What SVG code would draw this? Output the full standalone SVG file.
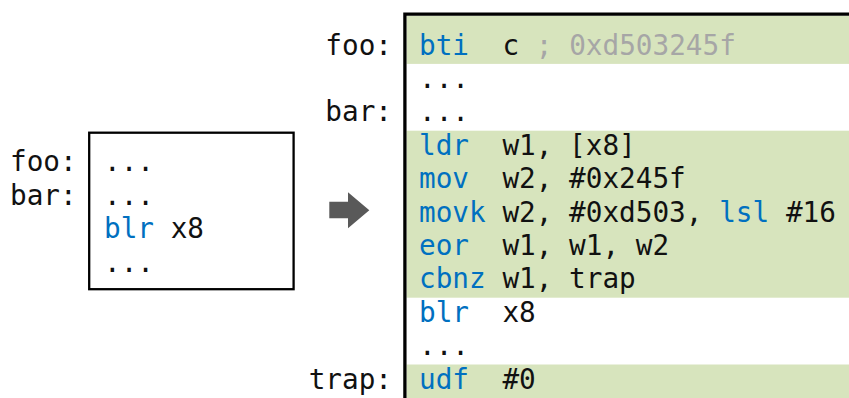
<svg xmlns="http://www.w3.org/2000/svg" width="849" height="398" viewBox="0 0 849 398">
  <style>
    text { font-family: "DejaVu Sans Mono", "Liberation Mono", monospace; font-size: 27.7px; fill: #111111; }
    .op { fill: #0070C0; }
    .cm { fill: #A6A6A6; }
    .lbl { text-anchor: end; }
    .band { fill: #D7E4BD; }
  </style>

  <!-- original code: call site before instrumentation -->
  <g id="original">
    <rect x="89.2" y="132.7" width="204.4" height="156.5" fill="#ffffff" stroke="#000000" stroke-width="2.3"/>
    <text x="10" y="171">foo:</text>
    <text x="10" y="204.5">bar:</text>
    <text x="104" y="171">...</text>
    <text x="104" y="204.5">...</text>
    <text x="104" y="238"><tspan class="op">blr</tspan><tspan x="170.7">x8</tspan></text>
    <text x="104" y="271.5">...</text>
  </g>

  <!-- transformation arrow -->
  <g id="connectors">
    <polygon points="329.3,201.7 348,201.7 348,192.3 369.3,210.2 348,228.3 348,218.3 329.3,218.3" fill="#595959"/>
  </g>

  <!-- instrumented code -->
  <g id="instrumented">
    <!-- highlighted rows -->
    <rect class="band" x="406.6" y="15.8" width="442.4" height="48.1"/>
    <rect class="band" x="406.6" y="130.7" width="442.4" height="167"/>
    <rect class="band" x="406.6" y="364.5" width="442.4" height="33.5"/>
    <!-- frame: left and top edges -->
    <path d="M404.9,398 V14.2 H849" fill="none" stroke="#000000" stroke-width="3.3"/>

    <text class="lbl" x="392" y="54.5">foo:</text>
    <text class="lbl" x="392" y="121.3">bar:</text>
    <text class="lbl" x="392" y="388.5">trap:</text>

    <text x="419" y="54.5"><tspan class="op">bti</tspan><tspan x="502.4">c</tspan><tspan class="cm" x="535.8">; 0xd503245f</tspan></text>
    <text x="419" y="87.9">...</text>
    <text x="419" y="121.3">...</text>
    <text x="419" y="154.7"><tspan class="op">ldr</tspan><tspan x="502.4">w1, [x8]</tspan></text>
    <text x="419" y="188.1"><tspan class="op">mov</tspan><tspan x="502.4">w2, #0x245f</tspan></text>
    <text x="419" y="221.5"><tspan class="op">movk</tspan><tspan x="502.4">w2, #0xd503,</tspan><tspan class="op" x="719.2">lsl</tspan><tspan x="785.9">#16</tspan></text>
    <text x="419" y="254.9"><tspan class="op">eor</tspan><tspan x="502.4">w1, w1, w2</tspan></text>
    <text x="419" y="288.3"><tspan class="op">cbnz</tspan><tspan x="502.4">w1, trap</tspan></text>
    <text x="419" y="321.7"><tspan class="op">blr</tspan><tspan x="502.4">x8</tspan></text>
    <text x="419" y="355.1">...</text>
    <text x="419" y="388.5"><tspan class="op">udf</tspan><tspan x="502.4">#0</tspan></text>
  </g>
</svg>
